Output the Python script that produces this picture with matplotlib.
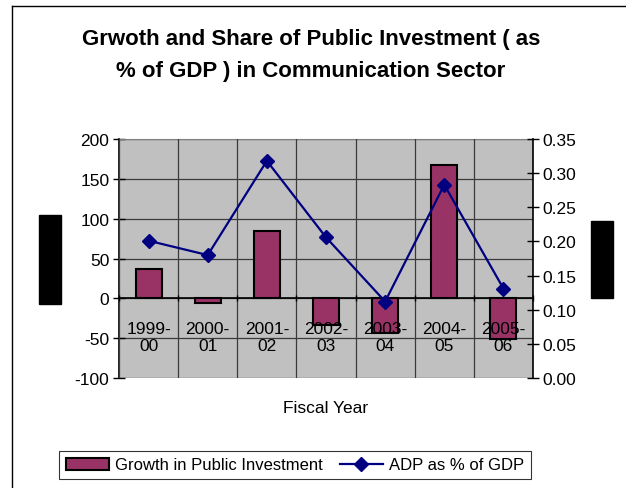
import numpy as np
import matplotlib
matplotlib.use("Agg")
import matplotlib.pyplot as plt
from matplotlib.patches import Rectangle
from matplotlib.lines import Line2D

plt.rcParams['font.family'] = ['Liberation Sans', 'DejaVu Sans']
plt.rcParams['axes.unicode_minus'] = False

years = ["1999-\n00", "2000-\n01", "2001-\n02", "2002-\n03", "2003-\n04", "2004-\n05", "2005-\n06"]
growth = [37, -6, 84, -33, -44, 167, -51]
adp_share = [0.201, 0.180, 0.318, 0.206, 0.112, 0.283, 0.131]

W, H = 626, 489
fig = plt.figure(figsize=(W / 100, H / 100), dpi=100)
fig.patch.set_facecolor('white')

def px(x0, y0, x1, y1):
    # pixel box -> figure fraction [left, bottom, width, height]
    return [x0 / W, 1 - y1 / H, (x1 - x0) / W, (y1 - y0) / H]

ax = fig.add_axes(px(119, 140, 533, 379))
ax.set_facecolor('#c0c0c0')
x = np.arange(len(years))

ax.bar(x, growth, width=0.44, color='#993366', edgecolor='black', linewidth=1.5, zorder=2)
ax.set_xlim(-0.5, len(years) - 0.5)
ax.set_ylim(-100, 200)
ax.set_yticks(np.arange(-100, 201, 50))
ax.yaxis.grid(True, color='#3a3a3a', linewidth=0.9)

# category boundaries as vertical grid lines
ax.set_xticks(np.arange(-0.5, len(years), 1), minor=True)
ax.xaxis.grid(True, which='minor', color='#3a3a3a', linewidth=0.9)
ax.set_axisbelow(True)
ax.xaxis.set_zorder(4)  # category labels sit on top of the bars
ax.set_xticks(x)
ax.tick_params(axis='x', which='major', length=0, pad=16, labelsize=12.5)
ax.tick_params(axis='x', which='minor', length=4, direction='inout', width=1)
ax.tick_params(axis='y', direction='inout', length=8, width=1, labelsize=12.5, pad=3)
ax.set_xticklabels(years, linespacing=1.65)

ax.spines['bottom'].set_position(('data', 0))
ax.spines['bottom'].set_linewidth(1.2)
ax.spines['left'].set_linewidth(1.2)
ax.spines['top'].set_color('#808080')
ax.spines['right'].set_visible(False)

ax2 = ax.twinx()
ax2.plot(x, adp_share, color='#000080', linewidth=1.6, marker='D', markersize=7,
         markerfacecolor='#000080', markeredgecolor='#000080', zorder=5)
ax2.set_ylim(0, 0.35)
ax2.set_yticks(np.arange(0, 0.351, 0.05))
ax2.set_yticklabels(["%.2f" % v for v in np.arange(0, 0.351, 0.05)])
ax2.tick_params(axis='y', direction='inout', length=8, width=1, labelsize=12.5, pad=3)
ax2.spines['right'].set_linewidth(1.2)
for s in ('top', 'bottom', 'left'):
    ax2.spines[s].set_visible(False)

fig.text(311 / W, 1 - 39 / H, "Grwoth and Share of Public Investment ( as", ha='center', va='center',
         fontsize=16, fontweight='bold')
fig.text(311 / W, 1 - 72 / H, "% of GDP ) in Communication Sector", ha='center', va='center',
         fontsize=16, fontweight='bold')
fig.text(326 / W, 1 - 409 / H, "Fiscal Year", ha='center', va='center', fontsize=12.5)

# legend
handles = [Rectangle((0, 0), 1, 1, facecolor='#993366', edgecolor='black', linewidth=1.5),
           Line2D([], [], color='#000080', linewidth=1.6, marker='D', markersize=7)]
leg = fig.legend(handles, ["Growth in Public Investment", "ADP as % of GDP"],
                 loc='center', bbox_to_anchor=(295 / W, 1 - 466 / H), ncol=2, fontsize=12,
                 frameon=True, fancybox=False, edgecolor='black', handlelength=2.6,
                 handletextpad=0.35, columnspacing=1.0, borderpad=0.4, borderaxespad=0)
leg.get_frame().set_linewidth(0.8)

# axis title placeholder boxes
fig.patches.append(Rectangle((39 / W, 1 - 305 / H), 22 / W, 89 / H, color='black',
                             transform=fig.transFigure, figure=fig))
fig.patches.append(Rectangle((591 / W, 1 - 299 / H), 22 / W, 77 / H, color='black',
                             transform=fig.transFigure, figure=fig))

# chart frame
fig.lines.append(Line2D([12 / W, 12 / W], [0, 1 - 7 / H], color='black', linewidth=1,
                        transform=fig.transFigure, figure=fig))
fig.lines.append(Line2D([12 / W, 1], [1 - 7 / H, 1 - 7 / H], color='black', linewidth=1,
                        transform=fig.transFigure, figure=fig))

fig.savefig("out.png", dpi=100)
